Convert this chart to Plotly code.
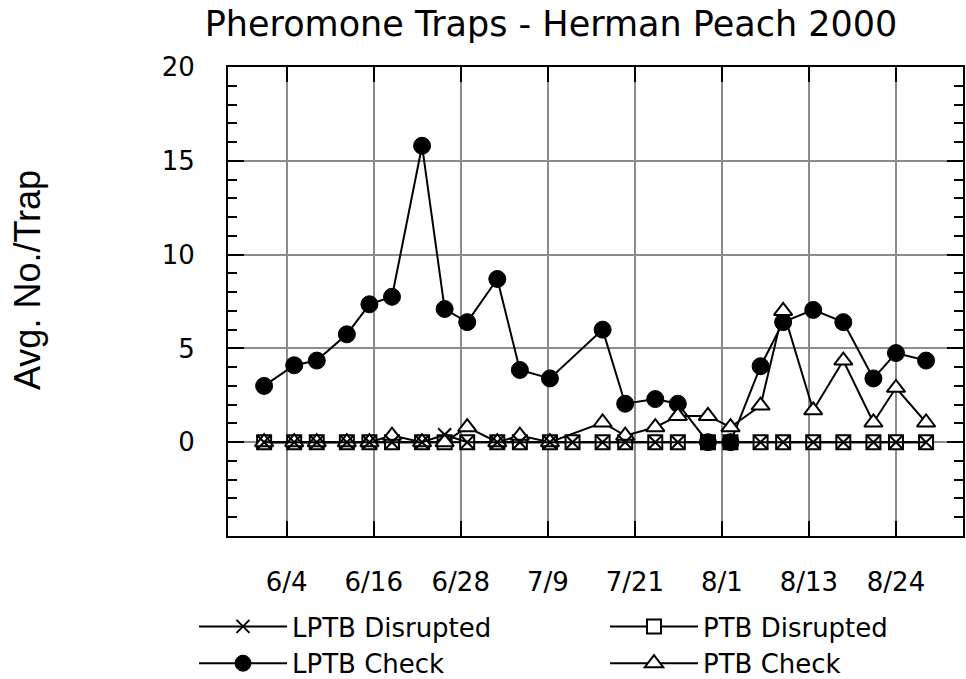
import plotly.graph_objects as go

# Day of season (June 1 = 1)
days_disrupted = [1, 5, 8, 12, 15, 18, 22, 25, 28, 32, 35, 39, 42, 46, 49, 53, 56, 60, 63, 67, 70, 74, 78, 82, 85, 89]
days_check = [1, 5, 8, 12, 15, 18, 22, 25, 28, 32, 35, 39, 46, 49, 53, 56, 60, 63, 67, 70, 74, 78, 82, 85, 89]

lptb_disrupted = [0, 0, 0, 0, 0, 0, 0, 0.4, 0, 0, 0, 0, 0, 0, 0, 0, 0, 0, 0, 0, 0, 0, 0, 0, 0, 0]
ptb_disrupted = [0] * 26
lptb_check = [3.0, 4.1, 4.35, 5.75, 7.35, 7.75, 15.8, 7.1, 6.4, 8.7, 3.85, 3.4,
              6.0, 2.05, 2.3, 2.05, 0, 0, 4.05, 6.4, 7.05, 6.4, 3.4, 4.75, 4.35]
ptb_check = [0, 0, 0, 0, 0, 0.35, 0, 0, 0.8, 0, 0.35, 0,
             1.05, 0.35, 0.8, 1.4, 1.4, 0.8, 1.95, 7.0, 1.7, 4.35, 1.05, 2.9, 1.05]

tick_labels = ["6/4", "6/16", "6/28", "7/9", "7/21", "8/1", "8/13", "8/24"]
tick_vals = [4 + k * 81 / 7 for k in range(len(tick_labels))]

FONT = "DejaVu Sans"

fig = go.Figure()
fig.add_trace(go.Scatter(
    x=days_disrupted, y=ptb_disrupted, name="PTB Disrupted", legend="legend2", legendrank=1,
    mode="lines+markers", line=dict(color="black", width=2),
    marker=dict(symbol="square", size=14, color="white", line=dict(color="black", width=2))))
fig.add_trace(go.Scatter(
    x=days_check, y=lptb_check, name="LPTB Check", legend="legend", legendrank=2,
    mode="lines+markers", line=dict(color="black", width=2),
    marker=dict(symbol="circle", size=17, color="black", line=dict(color="black", width=1))))
fig.add_trace(go.Scatter(
    x=days_check, y=ptb_check, name="PTB Check", legend="legend2", legendrank=2,
    mode="lines+markers", line=dict(color="black", width=2),
    marker=dict(symbol="triangle-up", size=16, color="white", line=dict(color="black", width=2))))
fig.add_trace(go.Scatter(
    x=days_disrupted, y=lptb_disrupted, name="LPTB Disrupted", legend="legend", legendrank=1,
    mode="lines+markers", line=dict(color="black", width=2),
    marker=dict(symbol="x-thin", size=13, color="black", line=dict(color="black", width=2))))

legend_common = dict(orientation="v", xref="container", yref="container", xanchor="left",
                     yanchor="top", y=1 - 603 / 679, itemwidth=88, traceorder="normal",
                     font=dict(family=FONT, size=26, color="black"),
                     bgcolor="rgba(0,0,0,0)", borderwidth=0, tracegroupgap=0)

fig.update_layout(
    width=966, height=679,
    paper_bgcolor="white", plot_bgcolor="white",
    margin=dict(l=228, r=3, t=67, b=143, autoexpand=False),
    title=dict(text="Pheromone Traps - Herman Peach 2000", x=551 / 966, xanchor="center",
               xref="container", yref="container", y=1 - 24 / 679, yanchor="middle",
               font=dict(family=FONT, size=35, color="black")),
    showlegend=True,
    legend=dict(legend_common, x=194 / 966),
    legend2=dict(legend_common, x=605 / 966),
    annotations=[dict(text="Avg. No./Trap", textangle=-90, xref="paper", yref="paper",
                      x=(27 - 228) / 735, y=(536 - 280) / 469, showarrow=False,
                      xanchor="center", yanchor="middle",
                      font=dict(family="Liberation Sans", size=36, color="black"))],
)

fig.update_xaxes(
    range=[-3.80, 93.91], tickmode="array", tickvals=tick_vals, ticktext=tick_labels,
    showgrid=True, gridcolor="#8c8c8c", gridwidth=2, zeroline=False,
    ticks="inside", ticklen=15, tickwidth=2, tickcolor="black",
    showline=True, linecolor="black", linewidth=2, mirror="allticks",
    tickfont=dict(family=FONT, size=26, color="black"), ticklabelstandoff=22,
)
fig.update_yaxes(
    range=[-5, 20], tickmode="array", tickvals=[0, 5, 10, 15, 20],
    showgrid=True, gridcolor="#8c8c8c", gridwidth=2, zeroline=False,
    ticks="inside", ticklen=16, tickwidth=2, tickcolor="black",
    showline=True, linecolor="black", linewidth=2, mirror="allticks",
    minor=dict(tickmode="linear", tick0=0, dtick=1, ticks="inside", ticklen=9,
               tickwidth=2, tickcolor="black", showgrid=False),
    tickfont=dict(family=FONT, size=26, color="black"), ticklabelstandoff=26,
)

fig.write_html("out.html", config={"displayModeBar": False},
               post_script="document.body.style.margin='0';")
